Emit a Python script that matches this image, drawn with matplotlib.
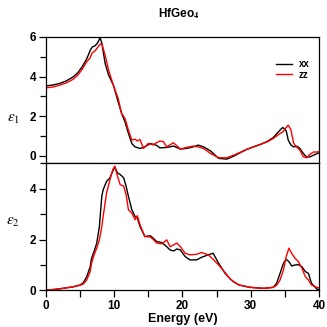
import numpy as np
import matplotlib
matplotlib.use("Agg")
import matplotlib.pyplot as plt
from matplotlib.ticker import MultipleLocator

plt.rcParams['font.family'] = ['Liberation Sans', 'DejaVu Sans']
plt.rcParams['mathtext.fontset'] = 'stix'

# ---- data ----
e1_xx_E = [0, 1, 2, 3, 4, 4.7, 5.3, 6.0, 6.5, 6.8, 7.2, 7.56, 7.95, 8.2, 8.7, 9.2, 9.9, 10.6, 11.1, 11.6,
           12.1, 12.6, 13.07, 13.8, 14.5, 15.3, 16.2, 16.7, 17.7, 18.7, 19.7, 20.6, 21.6, 22.3, 23.1, 24.1,
           25.3, 26.5, 27.5, 28.5, 29.4, 30.4, 31.4, 32.4, 33.3, 34.3, 34.7, 35.2, 35.5, 35.9, 36.3, 36.8,
           37.2, 37.7, 38.2, 38.7, 39.2, 39.8, 40]
e1_xx = [3.53, 3.57, 3.65, 3.78, 3.98, 4.2, 4.48, 4.9, 5.32, 5.49, 5.55, 5.69, 5.96, 5.7, 4.65, 4.07, 3.56,
         2.72, 2.14, 1.71, 1.13, 0.62, 0.45, 0.37, 0.45, 0.62, 0.53, 0.4, 0.42, 0.49, 0.34, 0.37, 0.45, 0.54,
         0.45, 0.25, -0.13, -0.17, -0.02, 0.16, 0.32, 0.45, 0.57, 0.72, 0.92, 1.3, 1.43, 1.26, 0.79, 0.54,
         0.45, 0.48, 0.37, 0.12, -0.07, -0.05, 0.03, 0.12, 0.15]

e1_zz_E = [0, 1, 2, 3, 4, 4.7, 5.3, 6.0, 6.5, 6.8, 7.2, 7.56, 7.95, 8.2, 8.7, 9.2, 9.9, 10.6, 11.1, 11.6,
           12.1, 12.6, 13.07, 13.4, 13.8, 14.3, 15.0, 15.7, 16.2, 16.7, 17.2, 17.7, 18.7, 19.7, 20.6, 21.6,
           22.3, 23.1, 24.1, 25.3, 26.5, 27.5, 28.5, 29.4, 30.4, 31.4, 32.4, 33.3, 34.3, 34.7, 35.2, 35.5,
           35.9, 36.3, 36.8, 37.2, 37.7, 38.2, 38.7, 39.2, 39.8, 40]
e1_zz = [3.43, 3.47, 3.56, 3.68, 3.86, 4.07, 4.35, 4.75, 4.95, 5.2, 5.29, 5.46, 5.63, 5.66, 5.07, 4.32, 3.56,
         2.89, 2.14, 1.88, 1.3, 0.79, 0.84, 0.75, 0.82, 0.37, 0.62, 0.55, 0.66, 0.74, 0.72, 0.45, 0.66, 0.34,
         0.42, 0.49, 0.45, 0.37, 0.12, -0.1, -0.1, 0.03, 0.18, 0.32, 0.45, 0.57, 0.7, 0.87, 1.13, 1.2, 1.43,
         1.55, 1.3, 0.62, 0.42, 0.29, -0.05, -0.1, 0.08, 0.19, 0.19, 0.22]

e2_xx_E = [0, 1, 2, 3, 4, 5, 5.5, 6.0, 6.5, 6.7, 7.07, 7.46, 7.85, 8.2, 8.4, 8.9, 9.4, 9.8, 10.1, 10.5,
           10.9, 11.4, 11.76, 12.1, 12.6, 13.07, 13.4, 13.8, 14.5, 15.3, 15.75, 16.25, 17.0, 17.7, 18.2,
           18.7, 19.2, 19.7, 20.4, 21.1, 22.1, 22.8, 23.8, 24.5, 25.3, 26.25, 27.0, 27.5, 28.3, 29.9, 31.9,
           33.3, 33.8, 34.3, 34.8, 35.2, 35.6, 36.0, 36.5, 37.0, 37.5, 38.0, 38.45, 38.9, 39.7, 40]
e2_xx = [0.02, 0.03, 0.06, 0.1, 0.14, 0.21, 0.3, 0.54, 0.93, 1.26, 1.53, 1.86, 2.51, 3.7, 3.96, 4.29, 4.43,
         4.69, 4.86, 4.62, 4.56, 4.43, 4.1, 3.7, 3.17, 2.91, 2.85, 2.51, 2.12, 2.15, 2.05, 1.92, 1.88, 1.72,
         1.59, 1.55, 1.63, 1.59, 1.33, 1.2, 1.2, 1.3, 1.4, 1.46, 1.07, 0.67, 0.45, 0.34, 0.21, 0.12, 0.08,
         0.12, 0.28, 0.67, 1.07, 1.22, 1.13, 0.96, 1.0, 1.01, 0.93, 0.74, 0.67, 0.28, 0.05, 0.03]

e2_zz_E = [0, 1, 2, 3, 4, 5, 5.5, 6.0, 6.5, 6.7, 7.07, 7.46, 7.85, 8.2, 8.4, 8.9, 9.4, 9.8, 10.1, 10.5,
           10.9, 11.4, 11.76, 12.1, 12.6, 13.07, 13.4, 13.8, 14.5, 15.3, 15.75, 16.25, 17.0, 17.7, 18.2,
           18.7, 19.2, 19.7, 20.4, 21.1, 22.1, 22.8, 23.8, 24.5, 25.3, 26.25, 27.0, 27.5, 28.3, 29.9, 31.9,
           33.3, 33.8, 34.3, 34.8, 35.2, 35.6, 36.0, 36.5, 37.0, 37.5, 38.0, 38.45, 38.9, 39.7, 40]
e2_zz = [0.02, 0.03, 0.06, 0.1, 0.14, 0.2, 0.25, 0.41, 0.74, 1.07, 1.4, 1.66, 1.99, 2.51, 2.91, 3.83, 4.36,
         4.75, 4.89, 4.49, 4.16, 4.1, 3.77, 3.17, 3.04, 2.78, 2.94, 2.58, 2.12, 2.1, 2.0, 1.86, 1.83, 1.99,
         1.72, 1.79, 1.86, 1.72, 1.46, 1.4, 1.42, 1.49, 1.4, 1.22, 1.0, 0.7, 0.45, 0.34, 0.21, 0.12, 0.08,
         0.12, 0.2, 0.41, 0.8, 1.33, 1.66, 1.46, 1.26, 1.13, 0.87, 0.54, 0.41, 0.21, 0.12, 0.1]

series_labels = ['xx', 'zz']
x_ticks = [0, 10, 20, 30, 40]

# ---- figure ----
fig = plt.figure(figsize=(3.27, 3.27), dpi=100)
L, R = 0.140, 0.9755
ax1 = fig.add_axes([L, 0.5006, R - L, 0.887 - 0.5006])
ax2 = fig.add_axes([L, 0.112, R - L, 0.5006 - 0.112])

lw = 1.0
ax1.plot(e1_xx_E, e1_xx, color='black', lw=lw, label=series_labels[0])
ax1.plot(e1_zz_E, e1_zz, color='red', lw=lw, label=series_labels[1])
ax2.plot(e2_xx_E, e2_xx, color='black', lw=lw)
ax2.plot(e2_zz_E, e2_zz, color='red', lw=lw)

ax1.set_xlim(0, 40)
ax2.set_xlim(0, 40)
ax1.set_ylim(-0.38, 6)
ax2.set_ylim(0, 5.0)

for ax in (ax1, ax2):
    for s in ax.spines.values():
        s.set_linewidth(0.9)
    ax.yaxis.set_major_locator(MultipleLocator(2))
    ax.yaxis.set_minor_locator(MultipleLocator(1))
    ax.tick_params(axis='y', which='both', direction='out', width=0.9, labelsize=8.5, pad=2)
    ax.tick_params(axis='y', which='major', length=5)
    ax.tick_params(axis='y', which='minor', length=4)
    for t in ax.get_yticklabels():
        t.set_fontweight('bold')

ax1.tick_params(axis='x', which='both', bottom=False, labelbottom=False)
ax2.set_xticks(x_ticks)
ax2.xaxis.set_minor_locator(MultipleLocator(5))
ax2.tick_params(axis='x', which='both', direction='out', width=0.9, labelsize=8.5, pad=2)
ax2.tick_params(axis='x', which='major', length=5)
ax2.tick_params(axis='x', which='minor', length=5)
for t in ax2.get_xticklabels():
    t.set_fontweight('bold')

ax2.set_xlabel('Energy (eV)', fontsize=9, fontweight='bold', labelpad=1)
ax1.set_ylabel(r'$\varepsilon_1$', fontsize=11, rotation=0, labelpad=10, va='center')
ax2.set_ylabel(r'$\varepsilon_2$', fontsize=11, rotation=0, labelpad=10, va='center')
ax1.yaxis.set_label_coords(-0.12, 0.35)
ax2.yaxis.set_label_coords(-0.12, 0.535)

fig.text(0.545, 0.957, r'HfGeo$_\mathbf{4}$', ha='center', va='center', fontsize=8.5, fontweight='bold')

leg = ax1.legend(loc='upper right', bbox_to_anchor=(0.99, 0.88), frameon=False, fontsize=7,
                 handlelength=1.6, handletextpad=0.7, labelspacing=0.1, borderpad=0.2)
for t in leg.get_texts():
    t.set_fontweight('bold')

fig.savefig('out.png', dpi=100)
